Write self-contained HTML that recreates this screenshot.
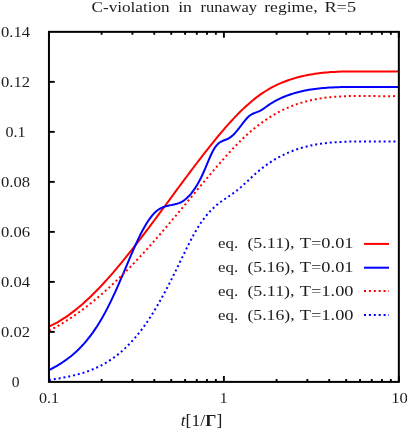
<!DOCTYPE html>
<html><head><meta charset="utf-8"><title>chart</title>
<style>
html,body{margin:0;padding:0;background:#fff;}
body{width:407px;height:431px;overflow:hidden;}
svg{display:block;}
text{font-family:"Liberation Serif",serif;font-size:15.6px;fill:#1c1c1c;}
</style></head><body>
<svg width="407" height="431" viewBox="0 0 407 431">
<rect width="407" height="431" fill="#fff"/>
<g fill="none" stroke-width="2" stroke-linejoin="round">
<path d="M48.95 326.53 L50.95 325.62 L52.95 324.66 L54.95 323.63 L56.95 322.55 L58.95 321.41 L60.95 320.22 L62.95 318.96 L64.95 317.66 L66.94 316.30 L68.94 314.89 L70.94 313.43 L72.94 311.92 L74.94 310.36 L76.94 308.76 L78.94 307.10 L80.94 305.40 L82.94 303.66 L84.94 301.87 L86.94 300.04 L88.94 298.16 L90.94 296.25 L92.94 294.29 L94.94 292.30 L96.94 290.27 L98.94 288.20 L100.94 286.10 L102.93 283.96 L104.93 281.79 L106.93 279.59 L108.93 277.35 L110.93 275.08 L112.93 272.79 L114.93 270.46 L116.93 268.11 L118.93 265.73 L120.93 263.33 L122.93 260.90 L124.93 258.44 L126.93 255.97 L128.93 253.47 L130.93 250.95 L132.93 248.42 L134.93 245.86 L136.92 243.29 L138.92 240.70 L140.92 238.09 L142.92 235.47 L144.92 232.84 L146.92 230.20 L148.92 227.54 L150.92 224.87 L152.92 222.20 L154.92 219.51 L156.92 216.82 L158.92 214.12 L160.92 211.42 L162.92 208.71 L164.92 206.00 L166.92 203.28 L168.92 200.57 L170.92 197.85 L172.91 195.14 L174.91 192.42 L176.91 189.71 L178.91 187.01 L180.91 184.31 L182.91 181.61 L184.91 178.92 L186.91 176.24 L188.91 173.57 L190.91 170.91 L192.91 168.26 L194.91 165.62 L196.91 162.99 L198.91 160.38 L200.91 157.78 L202.91 155.20 L204.91 152.63 L206.90 150.09 L208.90 147.56 L210.90 145.05 L212.90 142.57 L214.90 140.10 L216.90 137.67 L218.90 135.26 L220.90 132.88 L222.90 130.53 L224.90 128.22 L226.90 125.93 L228.90 123.69 L230.90 121.48 L232.90 119.32 L234.90 117.19 L236.90 115.11 L238.90 113.07 L240.90 111.08 L242.89 109.14 L244.89 107.25 L246.89 105.41 L248.89 103.63 L250.89 101.90 L252.89 100.23 L254.89 98.62 L256.89 97.07 L258.89 95.58 L260.89 94.16 L262.89 92.80 L264.89 91.50 L266.89 90.26 L268.89 89.08 L270.89 87.95 L272.89 86.87 L274.89 85.85 L276.88 84.88 L278.88 83.96 L280.88 83.08 L282.88 82.25 L284.88 81.47 L286.88 80.72 L288.88 80.02 L290.88 79.35 L292.88 78.72 L294.88 78.13 L296.88 77.57 L298.88 77.04 L300.88 76.54 L302.88 76.07 L304.88 75.63 L306.88 75.22 L308.88 74.83 L310.88 74.48 L312.87 74.14 L314.87 73.83 L316.87 73.54 L318.87 73.28 L320.87 73.04 L322.87 72.82 L324.87 72.62 L326.87 72.43 L328.87 72.27 L330.87 72.12 L332.87 71.99 L334.87 71.88 L336.87 71.78 L338.87 71.69 L340.87 71.62 L342.87 71.56 L344.87 71.51 L346.86 71.48 L348.86 71.45 L350.86 71.43 L352.86 71.42 L354.86 71.41 L356.86 71.41 L358.86 71.42 L360.86 71.43 L362.86 71.45 L364.86 71.46 L366.86 71.48 L368.86 71.50 L370.86 71.53 L372.86 71.55 L374.86 71.56 L376.86 71.58 L378.86 71.59 L380.86 71.60 L382.85 71.61 L384.85 71.60 L386.85 71.59 L388.85 71.58 L390.85 71.55 L392.85 71.52 L394.85 71.47 L396.85 71.42 L398.85 71.35" stroke="#f00"/>
<path d="M48.95 370.06 L50.95 369.04 L52.95 367.99 L54.95 366.90 L56.95 365.76 L58.95 364.57 L60.95 363.33 L62.95 362.03 L64.95 360.67 L66.94 359.24 L68.94 357.74 L70.94 356.16 L72.94 354.50 L74.94 352.75 L76.94 350.91 L78.94 348.97 L80.94 346.93 L82.94 344.79 L84.94 342.54 L86.94 340.17 L88.94 337.68 L90.94 335.06 L92.94 332.32 L94.94 329.44 L96.94 326.43 L98.94 323.27 L100.94 319.96 L102.93 316.50 L104.93 312.88 L106.93 309.10 L108.93 305.17 L110.93 301.10 L112.93 296.89 L114.93 292.55 L116.93 288.11 L118.93 283.57 L120.93 278.97 L122.93 274.30 L124.93 269.60 L126.93 264.88 L128.93 260.15 L130.93 255.45 L132.93 250.81 L134.93 246.26 L136.92 241.85 L138.92 237.61 L140.92 233.56 L142.92 229.74 L144.92 226.17 L146.92 222.85 L148.92 219.82 L150.92 217.10 L152.92 214.67 L154.92 212.56 L156.92 210.77 L158.92 209.30 L160.92 208.13 L162.92 207.22 L164.92 206.51 L166.92 205.96 L168.92 205.51 L170.92 205.13 L172.91 204.74 L174.91 204.32 L176.91 203.80 L178.91 203.13 L180.91 202.27 L182.91 201.17 L184.91 199.78 L186.91 198.08 L188.91 196.08 L190.91 193.79 L192.91 191.21 L194.91 188.36 L196.91 185.23 L198.91 181.78 L200.91 177.97 L202.91 173.77 L204.91 169.16 L206.90 164.34 L208.90 159.53 L210.90 154.99 L212.90 150.94 L214.90 147.59 L216.90 144.96 L218.90 143.04 L220.90 141.72 L222.90 140.80 L224.90 140.06 L226.90 139.29 L228.90 138.26 L230.90 136.88 L232.90 135.18 L234.90 133.17 L236.90 130.90 L238.90 128.39 L240.90 125.75 L242.89 123.09 L244.89 120.54 L246.89 118.24 L248.89 116.29 L250.89 114.81 L252.89 113.74 L254.89 112.91 L256.89 112.15 L258.89 111.34 L260.89 110.37 L262.89 109.18 L264.89 107.78 L266.89 106.29 L268.89 104.85 L270.89 103.52 L272.89 102.28 L274.89 101.14 L276.88 100.09 L278.88 99.10 L280.88 98.17 L282.88 97.29 L284.88 96.47 L286.88 95.69 L288.88 94.96 L290.88 94.27 L292.88 93.63 L294.88 93.03 L296.88 92.48 L298.88 91.95 L300.88 91.47 L302.88 91.02 L304.88 90.60 L306.88 90.21 L308.88 89.86 L310.88 89.53 L312.87 89.22 L314.87 88.94 L316.87 88.69 L318.87 88.46 L320.87 88.25 L322.87 88.06 L324.87 87.89 L326.87 87.74 L328.87 87.61 L330.87 87.49 L332.87 87.39 L334.87 87.30 L336.87 87.23 L338.87 87.17 L340.87 87.12 L342.87 87.08 L344.87 87.05 L346.86 87.02 L348.86 87.00 L350.86 86.99 L352.86 86.98 L354.86 86.98 L356.86 86.98 L358.86 86.98 L360.86 86.97 L362.86 86.97 L364.86 86.97 L366.86 86.96 L368.86 86.96 L370.86 86.95 L372.86 86.94 L374.86 86.94 L376.86 86.93 L378.86 86.92 L380.86 86.91 L382.85 86.91 L384.85 86.90 L386.85 86.90 L388.85 86.89 L390.85 86.89 L392.85 86.89 L394.85 86.89 L396.85 86.89 L398.85 86.90" stroke="#00f"/>
<path d="M48.95 330.64 L50.95 329.63 L52.95 328.59 L54.95 327.51 L56.95 326.41 L58.95 325.27 L60.95 324.10 L62.95 322.91 L64.95 321.68 L66.94 320.42 L68.94 319.14 L70.94 317.82 L72.94 316.48 L74.94 315.11 L76.94 313.71 L78.94 312.28 L80.94 310.83 L82.94 309.34 L84.94 307.83 L86.94 306.30 L88.94 304.73 L90.94 303.14 L92.94 301.53 L94.94 299.89 L96.94 298.22 L98.94 296.53 L100.94 294.81 L102.93 293.07 L104.93 291.31 L106.93 289.52 L108.93 287.71 L110.93 285.87 L112.93 284.01 L114.93 282.13 L116.93 280.23 L118.93 278.30 L120.93 276.36 L122.93 274.39 L124.93 272.40 L126.93 270.39 L128.93 268.35 L130.93 266.30 L132.93 264.23 L134.93 262.14 L136.92 260.02 L138.92 257.89 L140.92 255.74 L142.92 253.57 L144.92 251.39 L146.92 249.18 L148.92 246.96 L150.92 244.72 L152.92 242.46 L154.92 240.19 L156.92 237.90 L158.92 235.60 L160.92 233.28 L162.92 230.96 L164.92 228.62 L166.92 226.27 L168.92 223.91 L170.92 221.54 L172.91 219.16 L174.91 216.78 L176.91 214.39 L178.91 211.99 L180.91 209.59 L182.91 207.19 L184.91 204.78 L186.91 202.37 L188.91 199.96 L190.91 197.55 L192.91 195.13 L194.91 192.72 L196.91 190.31 L198.91 187.91 L200.91 185.50 L202.91 183.10 L204.91 180.71 L206.90 178.32 L208.90 175.94 L210.90 173.57 L212.90 171.21 L214.90 168.86 L216.90 166.53 L218.90 164.22 L220.90 161.92 L222.90 159.65 L224.90 157.40 L226.90 155.18 L228.90 152.98 L230.90 150.82 L232.90 148.68 L234.90 146.59 L236.90 144.53 L238.90 142.50 L240.90 140.52 L242.89 138.58 L244.89 136.69 L246.89 134.84 L248.89 133.05 L250.89 131.30 L252.89 129.61 L254.89 127.96 L256.89 126.37 L258.89 124.82 L260.89 123.32 L262.89 121.88 L264.89 120.48 L266.89 119.12 L268.89 117.82 L270.89 116.56 L272.89 115.34 L274.89 114.18 L276.88 113.05 L278.88 111.97 L280.88 110.94 L282.88 109.95 L284.88 109.00 L286.88 108.09 L288.88 107.23 L290.88 106.41 L292.88 105.63 L294.88 104.88 L296.88 104.18 L298.88 103.51 L300.88 102.88 L302.88 102.29 L304.88 101.73 L306.88 101.20 L308.88 100.71 L310.88 100.24 L312.87 99.81 L314.87 99.41 L316.87 99.03 L318.87 98.69 L320.87 98.37 L322.87 98.07 L324.87 97.80 L326.87 97.55 L328.87 97.33 L330.87 97.13 L332.87 96.94 L334.87 96.78 L336.87 96.64 L338.87 96.51 L340.87 96.40 L342.87 96.31 L344.87 96.23 L346.86 96.16 L348.86 96.11 L350.86 96.07 L352.86 96.03 L354.86 96.01 L356.86 96.00 L358.86 96.00 L360.86 96.00 L362.86 96.00 L364.86 96.02 L366.86 96.03 L368.86 96.05 L370.86 96.07 L372.86 96.09 L374.86 96.11 L376.86 96.13 L378.86 96.15 L380.86 96.16 L382.85 96.17 L384.85 96.18 L386.85 96.18 L388.85 96.17 L390.85 96.15 L392.85 96.13 L394.85 96.09 L396.85 96.04 L398.85 95.99" stroke="#f00" stroke-dasharray="2 2.9"/>
<path d="M48.95 380.03 L50.95 379.71 L52.95 379.39 L54.95 379.06 L56.95 378.73 L58.95 378.39 L60.95 378.04 L62.95 377.68 L64.95 377.30 L66.94 376.91 L68.94 376.50 L70.94 376.06 L72.94 375.61 L74.94 375.13 L76.94 374.62 L78.94 374.08 L80.94 373.51 L82.94 372.90 L84.94 372.26 L86.94 371.58 L88.94 370.86 L90.94 370.10 L92.94 369.29 L94.94 368.43 L96.94 367.52 L98.94 366.56 L100.94 365.55 L102.93 364.48 L104.93 363.36 L106.93 362.17 L108.93 360.92 L110.93 359.60 L112.93 358.22 L114.93 356.76 L116.93 355.24 L118.93 353.64 L120.93 351.97 L122.93 350.21 L124.93 348.38 L126.93 346.46 L128.93 344.46 L130.93 342.37 L132.93 340.20 L134.93 337.93 L136.92 335.56 L138.92 333.11 L140.92 330.55 L142.92 327.89 L144.92 325.13 L146.92 322.26 L148.92 319.29 L150.92 316.21 L152.92 313.03 L154.92 309.75 L156.92 306.38 L158.92 302.91 L160.92 299.36 L162.92 295.73 L164.92 292.02 L166.92 288.24 L168.92 284.39 L170.92 280.48 L172.91 276.50 L174.91 272.47 L176.91 268.39 L178.91 264.27 L180.91 260.13 L182.91 255.98 L184.91 251.87 L186.91 247.80 L188.91 243.81 L190.91 239.92 L192.91 236.16 L194.91 232.54 L196.91 229.09 L198.91 225.84 L200.91 222.79 L202.91 219.95 L204.91 217.31 L206.90 214.84 L208.90 212.54 L210.90 210.41 L212.90 208.42 L214.90 206.57 L216.90 204.86 L218.90 203.26 L220.90 201.76 L222.90 200.33 L224.90 198.96 L226.90 197.61 L228.90 196.25 L230.90 194.88 L232.90 193.45 L234.90 191.96 L236.90 190.42 L238.90 188.82 L240.90 187.15 L242.89 185.41 L244.89 183.61 L246.89 181.75 L248.89 179.85 L250.89 177.96 L252.89 176.08 L254.89 174.26 L256.89 172.50 L258.89 170.81 L260.89 169.18 L262.89 167.61 L264.89 166.11 L266.89 164.66 L268.89 163.27 L270.89 161.94 L272.89 160.67 L274.89 159.45 L276.88 158.29 L278.88 157.17 L280.88 156.11 L282.88 155.10 L284.88 154.14 L286.88 153.22 L288.88 152.35 L290.88 151.53 L292.88 150.75 L294.88 150.01 L296.88 149.31 L298.88 148.66 L300.88 148.04 L302.88 147.46 L304.88 146.92 L306.88 146.41 L308.88 145.93 L310.88 145.49 L312.87 145.08 L314.87 144.70 L316.87 144.35 L318.87 144.02 L320.87 143.72 L322.87 143.45 L324.87 143.20 L326.87 142.97 L328.87 142.77 L330.87 142.58 L332.87 142.42 L334.87 142.27 L336.87 142.14 L338.87 142.02 L340.87 141.92 L342.87 141.83 L344.87 141.75 L346.86 141.68 L348.86 141.62 L350.86 141.57 L352.86 141.53 L354.86 141.50 L356.86 141.47 L358.86 141.45 L360.86 141.44 L362.86 141.43 L364.86 141.43 L366.86 141.43 L368.86 141.44 L370.86 141.44 L372.86 141.45 L374.86 141.46 L376.86 141.47 L378.86 141.48 L380.86 141.49 L382.85 141.49 L384.85 141.50 L386.85 141.50 L388.85 141.50 L390.85 141.49 L392.85 141.48 L394.85 141.47 L396.85 141.45 L398.85 141.42" stroke="#00f" stroke-dasharray="2 2.9"/>
</g>
<g stroke="#000" stroke-width="1.9" fill="none"><path d="M48.95 381.90 v-5.8 M48.95 31.85 v5.8"/><path d="M223.90 381.90 v-5.8 M223.90 31.85 v5.8"/><path d="M398.85 381.90 v-5.8 M398.85 31.85 v5.8"/><path d="M101.62 381.90 v-2.9 M101.62 31.85 v2.9"/><path d="M132.42 381.90 v-2.9 M132.42 31.85 v2.9"/><path d="M154.28 381.90 v-2.9 M154.28 31.85 v2.9"/><path d="M171.23 381.90 v-2.9 M171.23 31.85 v2.9"/><path d="M185.09 381.90 v-2.9 M185.09 31.85 v2.9"/><path d="M196.80 381.90 v-2.9 M196.80 31.85 v2.9"/><path d="M206.95 381.90 v-2.9 M206.95 31.85 v2.9"/><path d="M215.89 381.90 v-2.9 M215.89 31.85 v2.9"/><path d="M276.57 381.90 v-2.9 M276.57 31.85 v2.9"/><path d="M307.37 381.90 v-2.9 M307.37 31.85 v2.9"/><path d="M329.23 381.90 v-2.9 M329.23 31.85 v2.9"/><path d="M346.18 381.90 v-2.9 M346.18 31.85 v2.9"/><path d="M360.04 381.90 v-2.9 M360.04 31.85 v2.9"/><path d="M371.75 381.90 v-2.9 M371.75 31.85 v2.9"/><path d="M381.90 381.90 v-2.9 M381.90 31.85 v2.9"/><path d="M390.84 381.90 v-2.9 M390.84 31.85 v2.9"/><path d="M48.95 331.89 h5.8"/><path d="M48.95 281.89 h5.8"/><path d="M48.95 231.88 h5.8"/><path d="M48.95 181.87 h5.8"/><path d="M48.95 131.86 h5.8"/><path d="M48.95 81.86 h5.8"/></g>
<rect x="48.95" y="31.85" width="349.90" height="350.05" fill="none" stroke="#000" stroke-width="2"/>
<path d="M364 243.90 H389" stroke="#f00" stroke-width="2" fill="none"/><path d="M364 267.70 H389" stroke="#00f" stroke-width="2" fill="none"/><path d="M364 291.10 H389" stroke="#f00" stroke-width="2" fill="none" stroke-dasharray="2 2.9"/><path d="M364 315.10 H389" stroke="#00f" stroke-width="2" fill="none" stroke-dasharray="2 2.9"/>
<g style="filter:grayscale(1)">
<text x="91.50" y="12.00" textLength="78.20" lengthAdjust="spacingAndGlyphs">C-violation</text><text x="178.20" y="12.00" textLength="13.80" lengthAdjust="spacingAndGlyphs">in</text><text x="200.50" y="12.00" textLength="56.50" lengthAdjust="spacingAndGlyphs">runaway</text><text x="264.20" y="12.00" textLength="53.40" lengthAdjust="spacingAndGlyphs">regime,</text><text x="324.40" y="12.00" textLength="31.70" lengthAdjust="spacingAndGlyphs">R=5</text>
<text x="11.65" y="387.40" textLength="7.80" lengthAdjust="spacingAndGlyphs">0</text><text x="1.05" y="337.39" textLength="29.00" lengthAdjust="spacingAndGlyphs">0.02</text><text x="1.05" y="287.39" textLength="29.00" lengthAdjust="spacingAndGlyphs">0.04</text><text x="1.05" y="237.38" textLength="29.00" lengthAdjust="spacingAndGlyphs">0.06</text><text x="1.05" y="187.37" textLength="29.00" lengthAdjust="spacingAndGlyphs">0.08</text><text x="5.50" y="137.36" textLength="20.10" lengthAdjust="spacingAndGlyphs">0.1</text><text x="1.05" y="87.36" textLength="29.00" lengthAdjust="spacingAndGlyphs">0.12</text><text x="1.05" y="37.35" textLength="29.00" lengthAdjust="spacingAndGlyphs">0.14</text>
<text x="38.90" y="403.00" textLength="20.10" lengthAdjust="spacingAndGlyphs">0.1</text><text x="219.80" y="403.00" textLength="7.80" lengthAdjust="spacingAndGlyphs">1</text><text x="391.20" y="403.00" textLength="16.80" lengthAdjust="spacingAndGlyphs">10</text>
<text x="218.10" y="248.30" textLength="20.10" lengthAdjust="spacingAndGlyphs">eq.</text><text x="247.40" y="248.30" textLength="47.20" lengthAdjust="spacingAndGlyphs">(5.11),</text><text x="299.80" y="248.30" textLength="53.70" lengthAdjust="spacingAndGlyphs">T=0.01</text><text x="218.10" y="272.10" textLength="20.10" lengthAdjust="spacingAndGlyphs">eq.</text><text x="247.40" y="272.10" textLength="47.20" lengthAdjust="spacingAndGlyphs">(5.16),</text><text x="299.80" y="272.10" textLength="53.70" lengthAdjust="spacingAndGlyphs">T=0.01</text><text x="218.10" y="295.50" textLength="20.10" lengthAdjust="spacingAndGlyphs">eq.</text><text x="247.40" y="295.50" textLength="47.20" lengthAdjust="spacingAndGlyphs">(5.11),</text><text x="299.80" y="295.50" textLength="53.70" lengthAdjust="spacingAndGlyphs">T=1.00</text><text x="218.10" y="319.50" textLength="20.10" lengthAdjust="spacingAndGlyphs">eq.</text><text x="247.40" y="319.50" textLength="47.20" lengthAdjust="spacingAndGlyphs">(5.16),</text><text x="299.80" y="319.50" textLength="53.70" lengthAdjust="spacingAndGlyphs">T=1.00</text>
<text x="180.7" y="425.5" style="font-size:16.3px" textLength="41.6" lengthAdjust="spacingAndGlyphs"><tspan font-style="italic">t</tspan>[1/<tspan font-weight="bold">Γ</tspan>]</text>
</g>
</svg>
</body></html>
